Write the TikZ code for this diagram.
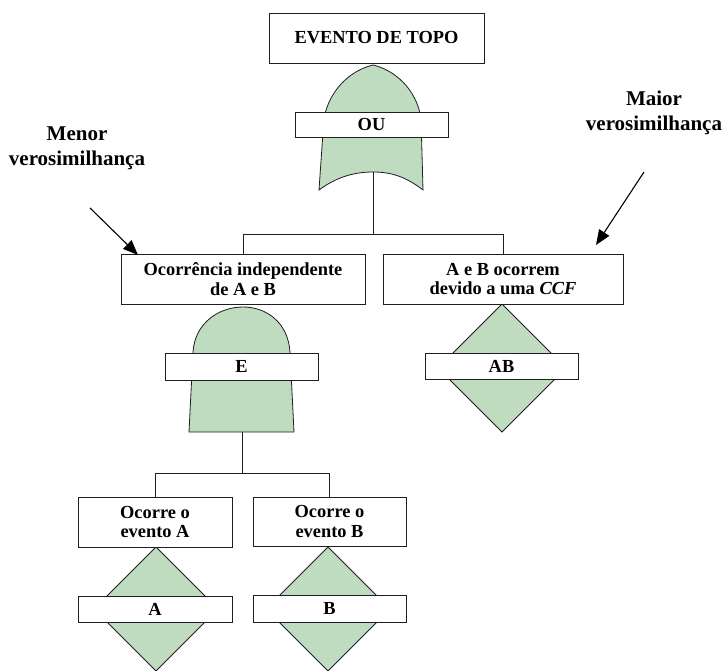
\documentclass[tikz,border=0pt]{standalone}
\usepackage{fontspec}
\setmainfont{Liberation Serif}
\usetikzlibrary{arrows.meta}
\definecolor{gatefill}{RGB}{192,220,192}
\definecolor{linecol}{RGB}{30,30,30}
\begin{document}
\begin{tikzpicture}[x=1pt,y=-1pt,
  box/.style={draw=linecol,line width=0.9pt,fill=white,rectangle,inner sep=0pt,align=center,
    font=\fontsize{18.4}{19.5}\selectfont\bfseries},
  gate/.style={draw=linecol,line width=0.8pt,fill=gatefill},
  conn/.style={draw=linecol,line width=0.9pt},
  note/.style={align=center,inner sep=0pt,font=\fontsize{21}{25}\selectfont\bfseries},
  pointer/.style={draw=black,line width=1.1pt,-{Triangle[length=15pt,width=12pt]}}]
\useasboundingbox (0,0) rectangle (723,671);
\fill[white] (0,0) rectangle (723,671);

% gates and diamonds (drawn first, boxes on top)
\path[gate] (319,190) -- (324,118) .. controls (330,88) and (352,70) .. (373,65)
  .. controls (394,70) and (416,88) .. (421,118) -- (423,190)
  .. controls (405,176) and (390,172) .. (373,172)
  .. controls (356,172) and (338,176) .. (319,190) -- cycle;
\path[gate] (189,432) -- (193,352) .. controls (195,322) and (220,307) .. (243,307)
  .. controls (266,307) and (288,322) .. (290,352) -- (294,432) -- cycle;
\path[gate] (502,304) -- (566,368) -- (502,432) -- (438,368) -- cycle;
\path[gate] (156,547) -- (218,609) -- (156,671) -- (94,609) -- cycle;
\path[gate] (328,547) -- (390,609) -- (328,671) -- (266,609) -- cycle;

\coordinate (orout) at (373,172);
\coordinate (andout) at (242,432);

% boxes
\node[box,minimum width=215pt,minimum height=50pt] (top) at (376.5,38) {EVENTO DE TOPO};
\node[box,minimum width=153pt,minimum height=25pt] (ou) at (371.5,124.5) {OU};
\node[box,minimum width=244pt,minimum height=50pt] (indep) at (243,279) {Ocorrência independente\\de A e B};
\node[box,minimum width=240pt,minimum height=50pt] (ccf) at (503,279) {A e B ocorrem\\devido a uma \textit{CCF}};
\node[box,minimum width=153pt,minimum height=26pt] (ab) at (501.5,366) {AB};
\node[box,minimum width=153pt,minimum height=27pt] (e) at (241.5,366.5) {E};
\node[box,minimum width=154pt,minimum height=50pt] (evA) at (155,522) {Ocorre o\\evento A};
\node[box,minimum width=153pt,minimum height=49pt] (evB) at (329.5,521.5) {Ocorre o\\evento B};
\node[box,minimum width=154pt,minimum height=26pt] (a) at (155,609) {A};
\node[box,minimum width=153pt,minimum height=27pt] (b) at (329.5,608.5) {B};

% connectors
\draw[conn] (orout) -- (373,234) -| (indep.north);
\draw[conn] (orout) -- (373,234) -| (ccf.north);
\draw[conn] (andout) -- (242,473) -| (evA.north);
\draw[conn] (andout) -- (242,473) -| (evB.north);

% side notes
\node[note] (menor) at (77,148) {Menor\\verosimilhança};
\node[note] (maior) at (654,113) {Maior\\verosimilhança};
\coordinate (menorstart) at (90,208);
\coordinate (menortip) at (138,255);
\coordinate (maiorstart) at (644,172);
\coordinate (maiortip) at (596,245);
\draw[pointer] (menorstart) -- (menortip);
\draw[pointer] (maiorstart) -- (maiortip);
\end{tikzpicture}
\end{document}
